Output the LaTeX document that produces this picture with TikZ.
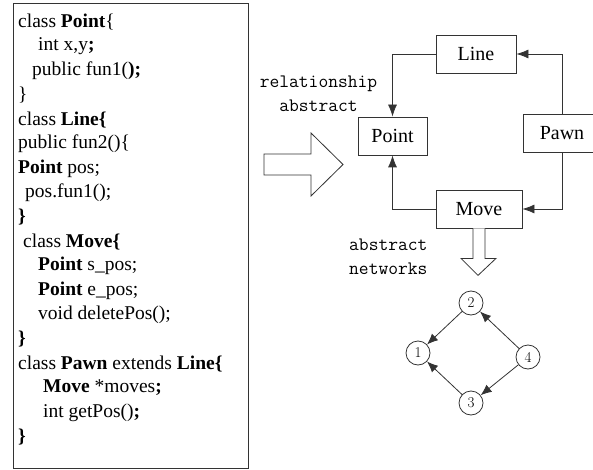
\documentclass[tikz,border=0pt]{standalone}
\usepackage{fontspec}
\setmainfont{Liberation Serif}
\newfontfamily\digitfont{Latin Modern Roman}
\usetikzlibrary{arrows.meta,calc,positioning}
\definecolor{ink}{HTML}{000000}
\definecolor{edge}{HTML}{333333}

\tikzset{
  codeline/.style={anchor=west,inner sep=0pt,font=\fontsize{19.5}{24}\selectfont},
  clsbox/.style={draw=edge,thick,minimum height=38pt,inner sep=0pt,
    font=\fontsize{20}{24}\selectfont},
  tag/.style={font=\ttfamily\fontsize{19}{24}\selectfont,align=center,inner sep=0pt},
  dep/.style={draw=edge,thick,-{Latex[length=12pt,width=9pt]}},
  vert/.style={circle,draw=edge,thick,minimum size=24pt,inner sep=0pt,
    font=\digitfont\fontsize{15}{15}\selectfont},
  netarr/.style={draw=edge,thick,-{Latex[length=11pt,width=9pt]}},
  hollow/.style={draw=edge,thick,fill=white}
}

\begin{document}
\begin{tikzpicture}[x=1pt,y=-1pt]
\useasboundingbox (0,0) rectangle (593,470);

% code listing
\node[draw=edge,thick,minimum width=235pt,minimum height=465pt,anchor=north west,
  inner sep=0pt] (code) at (13,3) {};
\node[codeline] (l1)  at (18,22)    {class \textbf{Point}\{};
\node[codeline] (l2)  at (38,46.4)  {int x,y\textbf{;}};
\node[codeline] (l3)  at (32,70.8)  {public fun1(\textbf{);}};
\node[codeline] (l4)  at (18,95.2)  {\}};
\node[codeline] (l5)  at (18,119.6) {class \textbf{Line\{}};
\node[codeline] (l6)  at (18,144)   {public fun2()\{};
\node[codeline] (l7)  at (18,168.4) {\textbf{Point} pos;};
\node[codeline] (l8)  at (25,192.8) {pos.fun1();};
\node[codeline] (l9)  at (18,217.2) {\textbf{\}}};
\node[codeline] (l10) at (23,241.6) {class \textbf{Move\{}};
\node[codeline] (l11) at (38,266)   {\textbf{Point} s\_pos;};
\node[codeline] (l12) at (38,290.4) {\textbf{Point} e\_pos;};
\node[codeline] (l13) at (38,314.8) {void deletePos();};
\node[codeline] (l14) at (18,339.2) {\textbf{\}}};
\node[codeline] (l15) at (18,363.6) {class \textbf{Pawn} extends \textbf{Line\{}};
\node[codeline] (l16) at (43,388)   {\textbf{Move} *moves\textbf{;}};
\node[codeline] (l17) at (43,412.4) {int getPos()\textbf{;}};
\node[codeline] (l18) at (18,436.8) {\textbf{\}}};

% big arrow to the class graph
\draw[hollow] (264,154) -- (311,154) -- (311,133) -- (343,164.5)
  -- (311,196) -- (311,175) -- (264,175) -- cycle;
\node[tag] (relabs) at (318.5,94) {relationship\\abstract};

% class graph
\node[clsbox,minimum width=80pt] (line)  at (476,54)   {Line};
\node[clsbox,minimum width=69pt] (point) at (392.5,136) {Point};
\node[clsbox,minimum width=78pt] (pawn)  at (562,133)  {Pawn};
\node[clsbox,minimum width=86pt] (move)  at (479,209)  {Move};

\draw[dep] (line.west) -| (point.north);
\draw[dep] (pawn.north) |- (line.east);
\draw[dep] (pawn.south) |- (move.east);
\draw[dep] (move.west) -| (point.south);

% arrow down to the network
\draw[hollow] ($(move.south)+(-6,0)$) -- ++(0,30) -- ++(-12,0) -- ++(17,17)
  -- ++(18,-17) -- ++(-11,0) -- ++(0,-30);
\node[tag,align=left,anchor=north west] (absnet) at (349,239) {abstract\\networks};

% abstract network
\node[vert] (v2) at (471,303) {2};
\node[vert] (v1) at (418,353) {1};
\node[vert] (v4) at (528,357) {4};
\node[vert] (v3) at (471,403) {3};

\draw[netarr] (v2) -- (v1);
\draw[netarr] (v4) -- (v2);
\draw[netarr] (v4) -- (v3);
\draw[netarr] (v3) -- (v1);

\end{tikzpicture}
\end{document}
